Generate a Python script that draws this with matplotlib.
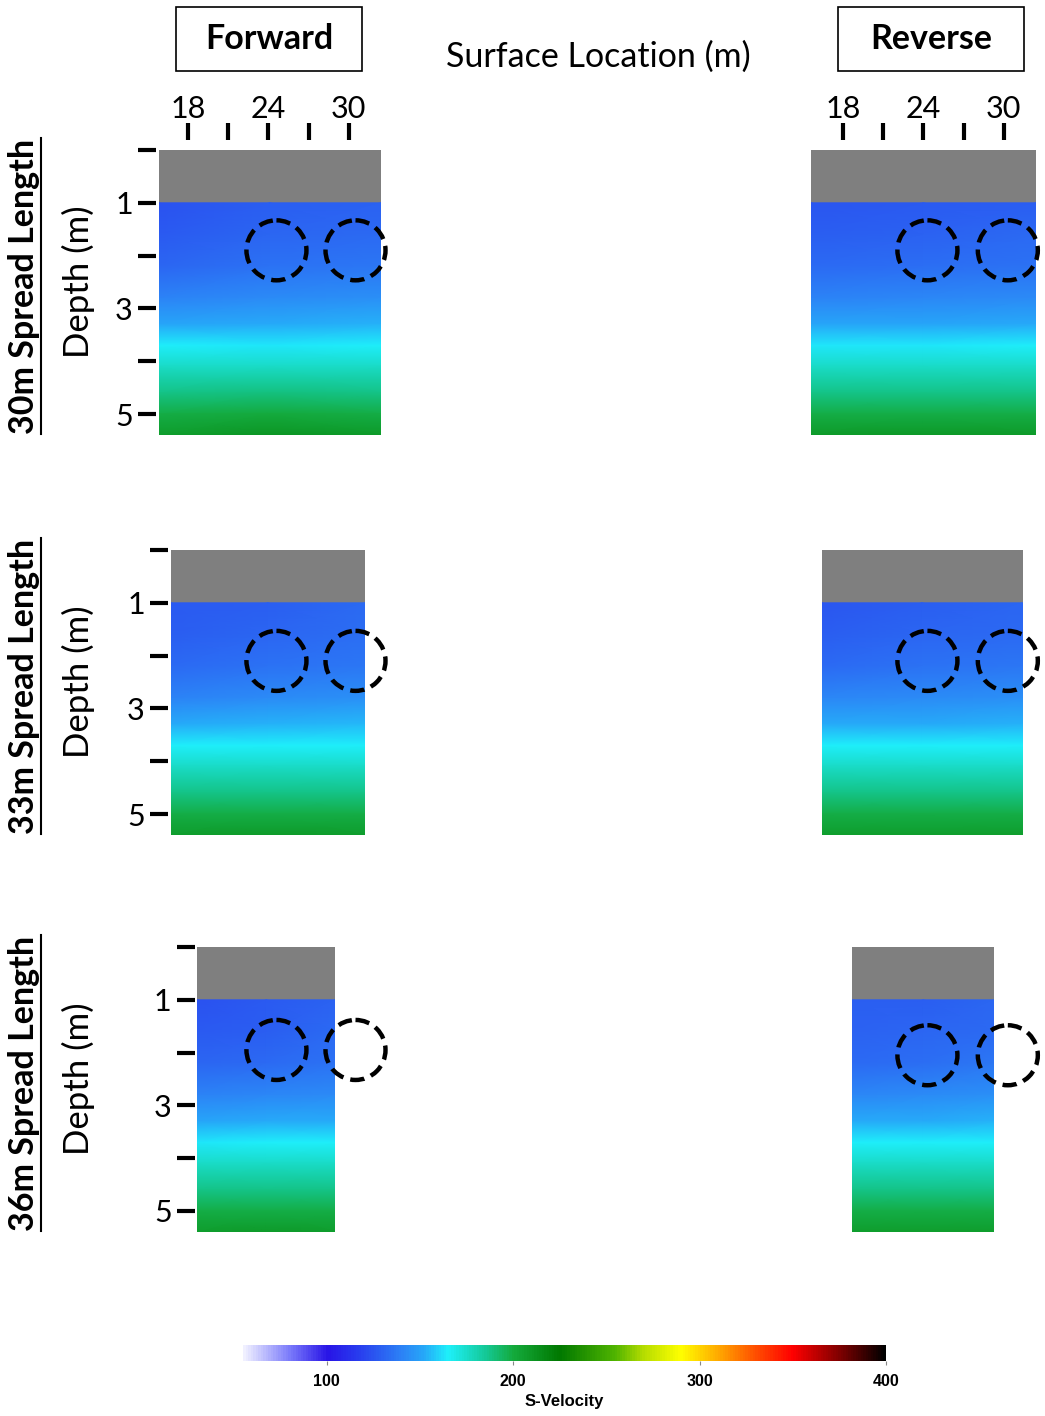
import numpy as np
import matplotlib
matplotlib.use('Agg')
import matplotlib.pyplot as plt
from matplotlib.colors import LinearSegmentedColormap, Normalize
from matplotlib.patches import Ellipse, Rectangle
from matplotlib.lines import Line2D
import matplotlib.cm as cm

plt.rcParams['font.family'] = ['Lato', 'DejaVu Sans']

W, H = 1045, 1416

# Data
row_labels = ['30m Spread Length', '33m Spread Length', '36m Spread Length']
sides = ['Forward', 'Reverse']

# surface location extent (m) of each inverted section
fwd_extent = [(15.8, 32.4), (16.7, 31.2), (18.7, 29.0)]
rev_extent = [(15.6, 32.4), (16.4, 31.4), (18.7, 29.3)]
depth_max = 5.4
gray_depth = 1.0

depth_nodes = [1.0, 1.6, 2.2, 2.8, 3.3, 3.7, 4.1, 4.6, 5.0, 5.4]

# S-velocity (m/s) at depth nodes, left / centre / right of each section
vel_fwd_30 = [[124, 128, 130], [127, 131, 133], [131, 135, 136], [140, 143, 144],
              [152, 153, 154], [165, 164, 165], [176, 176, 176], [188, 189, 188],
              [198, 200, 199], [207, 210, 208]]
vel_rev_30 = [[126, 127, 129], [128, 130, 132], [132, 134, 135], [141, 142, 143],
              [152, 152, 153], [164, 164, 165], [176, 175, 176], [188, 188, 188],
              [199, 199, 199], [208, 209, 208]]
vel_fwd_33 = [[127, 129, 132], [129, 131, 134], [133, 135, 137], [141, 143, 145],
              [153, 154, 155], [165, 165, 165], [176, 176, 176], [188, 188, 188],
              [198, 199, 198], [207, 208, 207]]
vel_rev_33 = [[126, 128, 131], [129, 131, 133], [133, 135, 137], [142, 143, 144],
              [153, 153, 154], [165, 165, 165], [176, 176, 176], [188, 188, 188],
              [198, 198, 198], [207, 207, 207]]
vel_fwd_36 = [[125, 127, 130], [127, 129, 132], [131, 133, 135], [141, 142, 143],
              [152, 153, 153], [164, 165, 165], [176, 176, 176], [188, 188, 188],
              [198, 199, 198], [207, 208, 207]]
vel_rev_36 = [[128, 129, 131], [130, 131, 133], [133, 134, 136], [142, 143, 144],
              [153, 153, 154], [165, 165, 165], [176, 176, 176], [188, 188, 188],
              [198, 198, 198], [207, 207, 207]]

velocities = [[vel_fwd_30, vel_rev_30], [vel_fwd_33, vel_rev_33], [vel_fwd_36, vel_rev_36]]

# anomaly locations (m): surface location, depth
anom_x_fwd = [24.6, 30.5]
anom_x_rev = [24.3, 30.3]
anom_depth = [[1.9, 1.9], [2.1, 2.1], [1.95, 2.05]]

x_major = [18, 24, 30]
x_minor = [21, 27]
depth_ticks = [0, 1, 2, 3, 4, 5]
depth_ticklabels = ['', '1', '', '3', '', '5']

vmin, vmax = 55, 400
cbar_ticks = [100, 200, 300, 400]

# colour scale of the inversion software
cmap_nodes = [(55, '#f0f0ff'), (80, '#7878fa'), (100, '#2814e6'), (115, '#2838ee'),
              (125, '#2a55f0'), (140, '#2c82f6'), (152, '#26a8f8'), (165, '#1ef0fa'),
              (185, '#14c896'), (200, '#14aa3c'), (225, '#007800'), (255, '#50b400'),
              (270, '#b4dc00'), (290, '#ffff00'), (310, '#ffaa00'), (330, '#ff5000'),
              (350, '#ff0000'), (375, '#820000'), (400, '#000000')]
cmap = LinearSegmentedColormap.from_list(
    'svel', [((v - vmin) / (vmax - vmin), c) for v, c in cmap_nodes])
norm = Normalize(vmin, vmax)

# layout (pixels)
px_per_m_x = 13.4
px_per_m_z = 52.8
x18_px = [188, 843]
row_top = [150, 550, 947]


def fbox(x0, y0, x1, y1):
    return [x0 / W, 1 - y1 / H, (x1 - x0) / W, (y1 - y0) / H]


fig = plt.figure(figsize=(W / 100, H / 100), dpi=100)

for r in range(3):
    for s in range(2):
        xmin, xmax = (fwd_extent if s == 0 else rev_extent)[r]
        x0 = x18_px[s] + (xmin - 18) * px_per_m_x
        x1 = x18_px[s] + (xmax - 18) * px_per_m_x
        y0 = row_top[r]
        y1 = y0 + depth_max * px_per_m_z
        ax = fig.add_axes(fbox(x0, y0, x1, y1))
        ax.set_xlim(xmin, xmax)
        ax.set_ylim(depth_max, 0)
        ax.axhspan(0, gray_depth, color='#7f7f7f', lw=0)
        v = np.array(velocities[r][s], dtype=float)
        xs = np.linspace(xmin, xmax, v.shape[1])
        X, Z = np.meshgrid(xs, depth_nodes)
        ax.pcolormesh(X, Z, v, cmap=cmap, norm=norm, shading='gouraud')
        for sp in ax.spines.values():
            sp.set_visible(False)

        # anomaly circles
        axs = anom_x_fwd if s == 0 else anom_x_rev
        for ax_x in axs:
            e = Ellipse((ax_x, anom_depth[r][s]), width=60 / px_per_m_x, height=60 / px_per_m_z,
                        fill=False, ec='black', lw=3.2, ls=(0, (3.2, 1.6)), clip_on=False, zorder=5)
            ax.add_patch(e)

        if s == 0:
            ax.spines['left'].set_position(('outward', 1.5))
            ax.set_yticks(depth_ticks)
            ax.set_yticklabels(depth_ticklabels)
            ax.tick_params(axis='y', length=13, width=3, pad=4, labelsize=22)
        else:
            ax.set_yticks([])

        if r == 0:
            ax.xaxis.tick_top()
            ax.spines['top'].set_position(('outward', 7))
            ax.set_xticks(x_major)
            ax.set_xticks(x_minor, minor=True)
            ax.tick_params(axis='x', which='both', length=12, width=3, pad=0.5, labelsize=22)
        else:
            ax.set_xticks([])

    fig.text(78 / W, 1 - (row_top[r] + 132) / H, 'Depth (m)', rotation=90,
             ha='center', va='center', fontsize=25)

# row labels (bold, underlined)
row_texts = []
for r in range(3):
    t = fig.text(24 / W, 1 - (row_top[r] + 136) / H, row_labels[r], rotation=90,
                 ha='center', va='center', fontsize=24.5, fontweight='bold')
    row_texts.append(t)

# header boxes
for label, (bx0, bx1) in zip(sides, [(176, 362), (838, 1024)]):
    fig.patches.append(Rectangle((bx0 / W, 1 - 71 / H), (bx1 - bx0) / W, 64 / H,
                                 transform=fig.transFigure, fill=False, ec='black', lw=1.2))
    fig.text((bx0 + bx1) / 2 / W, 1 - 39 / H, label, ha='center', va='center',
             fontsize=24.5, fontweight='bold')

fig.text(598 / W, 1 - 57 / H, 'Surface Location (m)', ha='center', va='center', fontsize=24.5)

# colour bar
cax = fig.add_axes(fbox(243, 1345, 886, 1361))
cb = fig.colorbar(cm.ScalarMappable(norm=norm, cmap=cmap), cax=cax, orientation='horizontal',
                  ticks=cbar_ticks)
cb.outline.set_visible(False)
cax.tick_params(length=3, width=0.8, color='#888888', pad=6)
for lab in cax.get_xticklabels():
    lab.set_fontfamily('Liberation Sans')
    lab.set_fontweight('bold')
    lab.set_fontsize(11.5)
cb.set_label('S-Velocity', fontsize=12, fontweight='bold', family='Liberation Sans', labelpad=4)

# underline the row labels
fig.canvas.draw()
inv = fig.transFigure.inverted()
for t in row_texts:
    bb = t.get_window_extent()
    (fx0, fy0), (fx1, fy1) = inv.transform([(bb.x0, bb.y0), (bb.x1, bb.y1)])
    fig.lines.append(Line2D([fx1 + 1 / W, fx1 + 1 / W], [fy0, fy1], transform=fig.transFigure,
                            color='black', lw=1.5))

fig.savefig('out.png', dpi=100)
